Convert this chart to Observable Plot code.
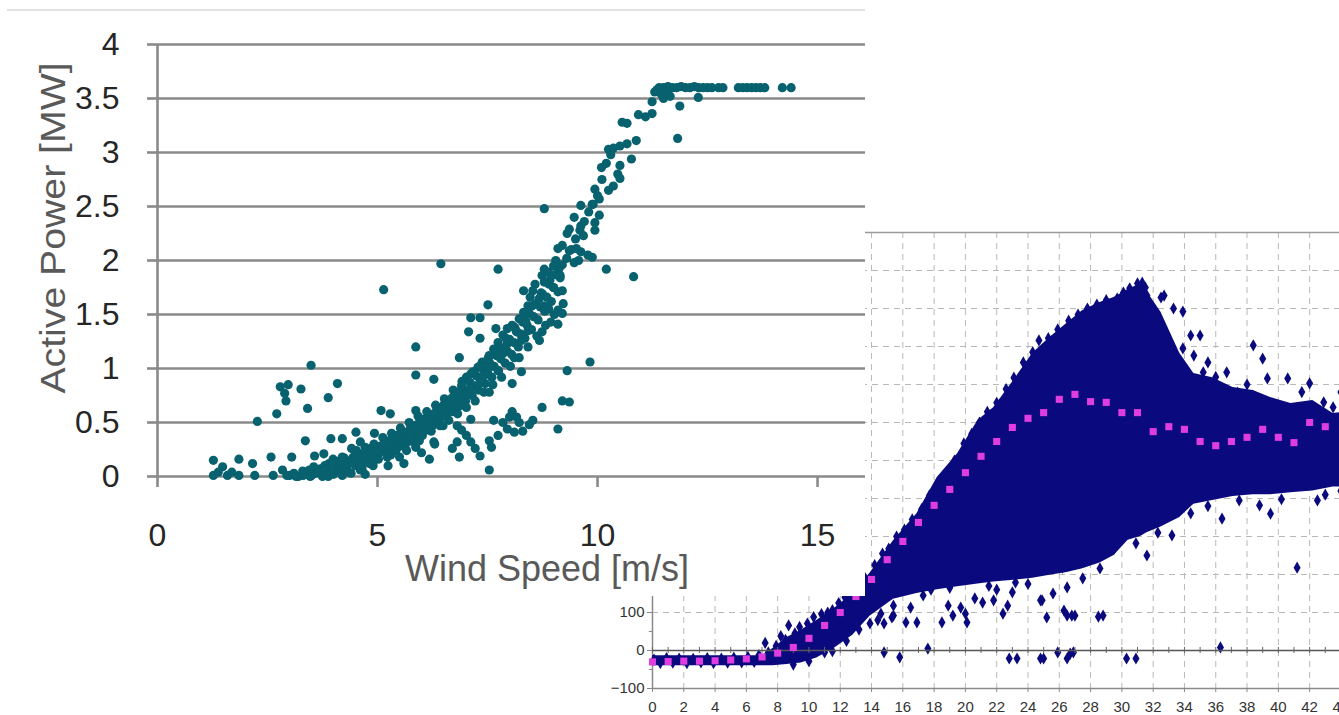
<!DOCTYPE html>
<html>
<head>
<meta charset="utf-8">
<script src="https://cdn.jsdelivr.net/npm/d3@7"></script>
<script src="https://cdn.jsdelivr.net/npm/@observablehq/plot@0.6"></script>
<style>
  html, body { margin: 0; padding: 0; background: #fff; }
  body { width: 1339px; height: 715px; overflow: hidden; position: relative; font-family: "Liberation Sans", Arial, sans-serif; }
  #c2 { position: absolute; left: 600px; top: 225px; width: 803px; height: 490px; }
  #c2 svg { max-width: none !important; }
  #c1 { position: absolute; left: 0; top: 0; width: 865px; height: 596px; background: #fff; overflow: hidden; }
  #c1 .topline { position: absolute; left: 7px; top: 9px; width: 858px; height: 0; border-top: 2px solid #e2e2e2; }
  #c1 svg { position: absolute; left: 0; top: 0; max-width: none !important; }
  .title1 { position: absolute; white-space: nowrap; color: #595959; font-family: "Liberation Sans", Arial, sans-serif; }
  #xtitle1 { left: 547px; top: 560px; font-size: 36px; line-height: 18px; height: 18px; transform: translateX(-50%); }
  #ytitle1 { left: 52px; top: 228px; font-size: 35px; line-height: 1; transform: translate(-50%, -50%) rotate(-90deg) scale(1.12, 1); }
</style>
</head>
<body>
<div id="c2"></div>
<div id="c1"><div class="topline"></div><div id="xtitle1" class="title1">Wind Speed [m/s]</div><div id="ytitle1" class="title1">Active Power [MW]</div></div>
<script>
// ---------- Chart 1 (front): Active Power [MW] vs Wind Speed [m/s] ----------
const xTicks1 = [0, 5, 10, 15];
const yTicks1 = [0, 0.5, 1, 1.5, 2, 2.5, 3, 3.5, 4];

const plateauPts = [[11.4,3.6],[11.5,3.6],[11.6,3.61],[11.7,3.6],[11.8,3.6],[11.9,3.61],[12.0,3.6],[12.1,3.6],[12.2,3.61],[12.3,3.6],[12.4,3.6],[12.5,3.6],[12.6,3.6],[12.75,3.6],[12.85,3.6],[13.2,3.6],[13.3,3.6],[13.4,3.6],[13.5,3.6],[13.6,3.6],[13.7,3.6],[13.8,3.6],[14.2,3.6],[14.4,3.6],
  [11.3,3.56],[11.45,3.54],[11.24,3.47],[11.35,3.58],[11.55,3.57],[11.87,3.43],[12.29,3.51],[11.82,3.13],[11.65,3.52],[11.5,3.5]];

const curvePts = [[11.24,3.36],[11.09,3.33],[10.93,3.35],[10.67,3.27],[10.56,3.28],[10.88,3.11],[10.67,3.08],[10.51,3.06],[10.25,3.03],[10.36,3.04],[10.77,2.94],[10.09,2.86],[10.51,2.88],[10.46,2.80],[10.51,2.76],[10.36,2.69],[10.25,2.65],[9.94,2.66],[10.04,2.57],[9.88,2.52],[9.62,2.51],[9.47,2.40],[10.04,2.42],[9.94,2.35],[9.62,2.32],[9.36,2.29],[9.31,2.25],[9.68,2.23],[9.94,2.28],[9.2,2.14],[9.1,2.11],[9.36,2.09],[9.52,2.11],[9.62,2.08],[9.78,2.05],[9.88,2.03],[9.57,2.0],[9.47,1.98],[9.05,2.0],[9.0,1.95],[8.79,1.92],[8.89,1.89],[9.15,1.86],[8.74,1.86],[8.79,1.80],[8.58,1.78],[9.0,1.75],[9.2,1.72],[8.53,1.72],[8.32,1.72],[8.47,1.66],[8.68,1.65],[8.79,1.58],[8.89,1.55],[9.1,1.54],[9.2,1.51],[8.42,1.58],[8.32,1.52],[8.22,1.46],[8.37,1.44],[8.06,1.40],[7.95,1.37],[8.16,1.34],[8.42,1.35],[8.74,1.34],[8.94,1.43],[9.1,1.41],[7.85,1.31],[7.74,1.24],[7.95,1.23],[8.27,1.26],[8.68,1.26],[7.64,1.18],[7.54,1.12],[7.85,1.14],[8.11,1.10],[7.38,1.06],[7.54,1.01],[7.28,1.01],[7.74,0.98],[7.17,0.97],[7.43,0.94],[7.02,0.92],[7.33,0.87],[6.91,0.84],[7.12,0.81],[6.81,0.78],[7.02,0.75],[7.54,0.78],[6.7,0.73],[6.91,0.70],[6.6,0.69],[6.49,0.64],[6.81,0.66],[6.39,0.61],[6.28,0.58],[6.18,0.55],[6.49,0.56],[6.08,0.52],[5.97,0.49],[5.87,0.47],[5.76,0.44],[6.08,0.44],[5.66,0.41],[5.55,0.38],[5.45,0.35],[5.76,0.36],[5.34,0.33],[5.24,0.30],[5.14,0.29],[5.03,0.26],[4.93,0.24],[4.82,0.23],[4.72,0.19],[4.56,0.16],[4.41,0.13],[4.25,0.12],[4.09,0.10],[3.94,0.08],[3.78,0.06],[3.62,0.04],[3.47,0.02],[3.31,0.01],[3.15,0.0],
  [10.1,2.75],[10.2,2.9],[10.3,2.98]];

const bandPts = [[3.0,0.01],[3.1,0.03],[3.2,0.0],[3.3,0.05],[3.35,0.02],[3.45,0.06],[3.5,0.01],[3.55,0.09],[3.6,0.03],[3.7,0.07],[3.75,0.0],[3.8,0.1],[3.85,0.04],[3.9,0.12],[3.95,0.06],[4.0,0.02],[4.05,0.09],[4.1,0.14],[4.15,0.05],[4.2,0.11],[4.25,0.17],[4.3,0.08],[4.35,0.13],[4.4,0.03],[4.45,0.18],[4.5,0.1],[4.55,0.15],[4.6,0.21],[4.65,0.07],[4.7,0.13],[4.75,0.2],[4.8,0.17],[4.85,0.26],[4.9,0.14],[4.95,0.22],[5.0,0.19],[5.05,0.28],[5.1,0.24],[5.15,0.31],[5.2,0.21],[5.25,0.27],[5.3,0.34],[5.35,0.25],[5.4,0.3],[5.45,0.38],[5.5,0.28],[5.55,0.34],[5.6,0.4],[5.65,0.31],[5.7,0.37],[5.75,0.45],[5.8,0.35],[5.85,0.42],[5.9,0.48],[5.95,0.39],[6.0,0.45],[6.05,0.53],[6.1,0.43],[6.15,0.5],[6.2,0.57],[6.25,0.47],[6.3,0.54],[6.35,0.62],[6.4,0.52],[6.45,0.59],[6.5,0.66],[6.55,0.56],[6.6,0.63],[6.65,0.71],[6.7,0.6],[6.75,0.68],[6.8,0.76],[6.85,0.65],[6.9,0.73],[6.95,0.81],[7.0,0.7],[7.05,0.78],[7.1,0.87],[7.15,0.75],[7.2,0.84],[7.25,0.93],[7.3,0.8],[7.35,0.9],[7.4,0.99],[7.45,0.86],[7.5,0.96],[7.55,1.05],[7.6,0.92],[7.65,1.02],[7.7,1.12],[7.75,0.98],[7.8,1.09],[7.85,1.19],[7.9,1.05],[7.95,1.16],[8.0,1.27],[8.05,1.13],[8.1,1.24],[8.15,1.35],[8.2,1.2],[8.25,1.32],[8.3,1.43],[8.35,1.28],[8.4,1.4],[8.45,1.51],[8.5,1.36],[8.55,1.48],[8.6,1.6],[8.65,1.45],[8.7,1.57],[8.75,1.69],[8.8,1.53],[8.85,1.66],[8.9,1.78],[8.95,1.62],[9.0,1.75],[9.05,1.87],[9.1,1.71],[9.15,1.84],[9.2,1.96],[9.3,2.02],[9.4,2.1],[9.5,2.2],[9.6,2.28],[9.7,2.36],[9.8,2.45],[9.9,2.52],[10.0,2.6]];

const bandPts2 = [[4.52,0.24],[4.62,0.08],[4.72,0.27],[4.82,0.12],[4.92,0.3],[5.02,0.16],[5.12,0.36],[5.22,0.18],[5.32,0.4],[5.42,0.24],[5.52,0.45],[5.62,0.28],[5.72,0.5],[5.82,0.32],[5.92,0.56],[6.02,0.38],[6.12,0.6],[6.22,0.42],[6.32,0.66],[6.42,0.47],[6.52,0.72],[6.62,0.52],[6.72,0.8],[6.82,0.58],[6.92,0.88],[7.02,0.64],[7.12,0.95],[7.22,0.7],[7.32,1.02],[7.42,0.78],[7.52,1.1],[7.62,0.85],[7.72,1.18],[7.82,0.92],[7.92,1.28],[8.02,1.02],[8.12,1.38],[8.22,1.1],[8.32,1.47],[8.42,1.2],[8.52,1.58],[8.62,1.3],[8.72,1.7],[8.82,1.4],[8.92,1.82],[9.02,1.5],[9.12,1.92],[9.22,1.6]];

const outlierPts = [[8.79,2.48],[10.2,1.92],[10.82,1.85],[6.44,1.97],[7.74,1.92],[5.14,1.73],[7.51,1.59],[7.12,1.47],[7.33,1.47],[7.69,1.37],[7.07,1.34],[7.33,1.28],[5.87,1.20],[6.86,1.10],[9.83,1.06],[9.31,0.98],[3.49,1.03],[5.87,0.94],[8.27,0.97],[8.06,0.86],[6.28,0.90],[4.09,0.86],[2.79,0.83],[2.97,0.85],[3.26,0.81],[2.89,0.77],[2.92,0.70],[3.88,0.73],[3.41,0.63],[2.71,0.58],[2.27,0.51],[5.08,0.61],[5.29,0.58],[5.87,0.61],[9.36,0.69],[9.2,0.70],[8.74,0.64],[8.53,0.52],[9.1,0.44],[8.06,0.60],[8.16,0.55],[7.64,0.52],[7.85,0.50],[7.95,0.44],[8.11,0.41],[7.74,0.38],[7.54,0.33],[7.59,0.27],[7.54,0.06],[7.12,0.53],[6.81,0.47],[6.49,0.47],[6.91,0.43],[7.02,0.38],[6.81,0.32],[6.7,0.26],[6.86,0.18],[7.12,0.32],[7.22,0.26],[7.33,0.19],[6.18,0.16],[6.28,0.32],[5.87,0.27],[5.66,0.24],[5.24,0.10],[4.82,0.13],[4.93,0.40],[4.51,0.41],[4.2,0.35],[3.94,0.35],[4.61,0.32],[4.41,0.26],[3.36,0.33],[3.05,0.18],[3.57,0.19],[3.78,0.21],[3.99,0.16],[4.2,0.18],[4.61,0.06],[4.72,0.02],[4.35,0.04],[4.2,0.01],[3.88,0.0],[3.47,0.0],[2.94,0.01],[2.84,0.06],[2.58,0.18],[2.63,0.01],[2.21,0.01],[2.16,0.12],[1.85,0.16],[1.85,0.01],[1.59,0.01],[1.48,0.09],[1.27,0.15],[1.27,0.01],[1.38,0.04],[1.69,0.04],
  [8.3,0.42],[8.45,0.48],[8.22,0.5],[8.0,0.55],[5.5,0.18],[6.0,0.22],[5.3,0.2],[4.9,0.1],[5.6,0.12],[6.3,0.3],[5.95,0.33]];

// ---------- Chart 2 (behind): scatter with binned means ----------
const xTicks2 = [0,2,4,6,8,10,12,14,16,18,20,22,24,26,28,30,32,34,36,38,40,42,44];
const xGrid2 = [2,4,6,8,10,12,14,16,18,20,22,24,26,28,30,32,34,36,38,40,42,44,46];
const xMinor2 = [1,3,5,7,9,11,13,15,17,19,21,23,25,27,29,31,33,35,37,39,41,43,45,47];
const yLabels2 = [-100, 0, 100];
const yMinor2 = [-50,50,150,250,350,450,550,650,750,850,950,1050];
const yDashed2 = [100,200,300,400,500,600,700,800,900,1000];

// dense core envelope
const coreX      = [0, 7, 7.7, 8.6, 9.5, 10.5, 11.6, 12.8, 13.9, 15.4, 16.9, 18.2, 19.5, 20.8, 21.8, 23.1, 24.3, 25.4, 26.5, 27.5, 28.6, 29.5, 30.4, 31.2, 31.6, 32.5, 33.7, 34.6, 35.8, 37.1, 38.4, 39.5, 40.8, 42.2, 43.5, 45];
const coreTop    = [-14, -14, 5, 34, 53, 79, 110, 150, 203, 289, 360, 455, 518, 605, 639, 711, 782, 824, 861, 895, 916, 929, 950, 965, 945, 890, 782, 729, 718, 692, 684, 666, 650, 658, 624, 630];
const coreBottom = [-40, -40, -40, -37, -33, -20, 5, 40, 90, 135, 150, 160, 168, 175, 180, 185, 190, 198, 205, 215, 230, 250, 290, 300, 310, 325, 350, 385, 395, 405, 410, 410, 415, 420, 430, 430];

const fringePts = [[0.1,-24],[0.5,-33],[0.9,-20],[1.3,-32],[1.7,-21],[2.2,-33],[2.6,-22],[3.1,-31],[3.5,-20],[3.9,-33],[4.4,-21],[4.8,-32],[5.2,-19],[5.7,-31],[6.1,-17],[6.5,-30],[6.8,-12],[7.2,20],[7.4,-5],[7.9,12],[8.2,38],[8.5,28],[8.7,66],[9.1,45],[9.4,62],[9.9,71],[10.3,88],[10.8,96],[11.2,100],[11.5,106],[11.9,125],[12.3,140],[12.6,132],[13.1,170],[13.6,190],[11.0,-5],[9.0,-37],[10,-28],[11.5,-2],[12.4,25],[13.2,55],[14.4,80],[14.6,97],[15.3,87],
  [14.2,225],[14.7,255],[15.1,268],[15.6,300],[16.1,318],[16.6,345],[17.2,372],[17.7,408],[18.3,440],[18.8,470],[19.3,500],[19.9,545],[20.4,570],[20.9,600],[21.4,628],[22.0,652],[22.6,688],[23.1,718],[23.7,758],[24.3,785],[24.7,816],[25.3,822],[25.9,845],[26.6,868],[27.2,884],[27.8,900],[28.4,910],[29.0,922],[29.7,926],[30.1,942],[30.5,953],[31.0,966],[31.3,968],[31.5,955],[31.6,934],[31.1,929],
  [32.5,929],[32.7,934],[33.3,900],[33.9,892],[32.5,847],[34.4,829],[35.0,829],[33.9,795],[34.6,776],[35.5,758],[35.2,732],[36.7,732],[37.4,679],[38.4,803],[39.0,768],[39.3,716],[40.6,716],[42.0,703],[42.9,653],[43.5,640],[44,680],[41.5,680],[38,700],[36,720],
  [38.8,382],[41.9,455],[41.2,218],[34.4,361],[36.4,347],[30.9,282],[31.6,250],[28.6,216],[26.2,218],[33.2,303],[29.9,342],[29.5,268],[32.3,310],[35.5,380],[37.5,395],[40.2,398],[43.0,410],[39.5,360],[42.5,395],[44,420],
  [15.4,92],[16.2,74],[16.9,74],[15.4,118],[14.8,71],[13.9,71],[16.5,113],[17.3,145],[18.5,74],[18.9,118],[19.2,92],[19.7,113],[20.0,97],[20.1,74],[20.6,137],[21.1,126],[21.8,132],[22.4,97],[22.7,118],[23.0,153],[23.2,179],[25.2,87],[24.9,132],[26.5,92],[26.5,166],[27.0,92],[28.8,92],[24.8,132],[26.3,105],[26.8,92],[28.5,89],[17.8,160],[19.0,165],[21.5,170],[24.0,175],[27.5,190],[25.6,150],[22.0,160],
  [14.8,-5],[15.8,-18],[17.6,5],[22.8,-21],[23.3,-21],[24.8,-21],[25.0,-21],[25.9,-5],[26.5,-21],[26.7,-8],[26.9,-5],[30.3,-21],[30.9,-21],[36.3,8]];

const meanX = [0,1,2,3,4,5,6,7,8,9,10,11,12,13,14,15,16,17,18,19,20,21,22,23,24,25,26,27,28,29,30,31,32,33,34,35,36,37,38,39,40,41,42,43];
const meanY = [-30,-29,-28,-28,-27,-25,-22,-17,-7,8,32,66,100,142,187,239,287,337,382,424,468,511,550,587,611,626,661,674,655,653,626,626,576,589,582,550,539,550,561,582,561,547,600,589];

// ---------- draw chart 2 ----------
const navy = "#0a0a7e";
const gridC = "#b8b8b8";
const chart2 = Plot.plot({
  width: 803, height: 490,
  marginLeft: 52, marginRight: 0, marginTop: 7, marginBottom: 27,
  x: {domain: [0, 48]},
  y: {domain: [-100, 1100]},
  style: {fontFamily: "Liberation Sans, Arial, sans-serif", fontSize: "15px", color: "#333", background: "transparent", overflow: "visible", maxWidth: "none"},
  marks: [
    Plot.ruleX(xGrid2, {stroke: gridC, strokeWidth: 1, strokeDasharray: "6,5"}),
    Plot.ruleY(yDashed2, {stroke: gridC, strokeWidth: 1, strokeDasharray: "6,5"}),
    Plot.ruleY([1100], {stroke: "#9a9a9a", strokeWidth: 1.5}),
    Plot.ruleY([-100], {stroke: "#8a8a8a", strokeWidth: 1.5}),
    Plot.ruleX([0], {stroke: "#8a8a8a", strokeWidth: 1.5}),
    Plot.areaY(coreX, {x: d => d, y1: (d, i) => coreTop[i], y2: (d, i) => coreBottom[i], fill: navy}),
    Plot.dot(fringePts, {x: d => d[0], y: d => d[1], symbol: "diamond", r: 3.7, fill: navy, stroke: null}),
    Plot.ruleY([0], {stroke: "#555", strokeWidth: 1.6}),
    Plot.ruleX(xMinor2.concat(xTicks2), {y1: -8, y2: 8, stroke: "#666", strokeWidth: 1}),
    Plot.ruleY(yMinor2, {x1: -0.2, x2: 0, stroke: "#888"}),
    Plot.dot(meanX, {x: d => d, y: (d, i) => meanY[i], symbol: "square", r: 4, fill: "#e03de0", stroke: null}),
    Plot.axisX(xTicks2, {tickSize: 4, tickPadding: 9, stroke: "#888", label: null}),
    Plot.axisY(yLabels2, {tickSize: 5, tickPadding: 3, stroke: "#888", label: null})
  ]
});
document.getElementById("c2").append(chart2);

// ---------- draw chart 1 ----------
const teal = "#07616f";
const grey1 = "#8a8a8a";
const chart1 = Plot.plot({
  width: 865, height: 596,
  marginLeft: 157, marginRight: 0, marginTop: 44, marginBottom: 120,
  x: {domain: [0, 16.09]},
  y: {domain: [0, 4]},
  style: {fontFamily: "Liberation Sans, Arial, sans-serif", fontSize: "32px", color: "#262626", background: "transparent", overflow: "visible", maxWidth: "none"},
  marks: [
    Plot.ruleY(yTicks1, {stroke: grey1, strokeWidth: 2.6}),
    Plot.axisY(yTicks1, {tickSize: 10, tickPadding: 28, stroke: grey1, strokeWidth: 2.6, tickFormat: d => String(d), label: null}),
    Plot.axisX(xTicks1, {tickSize: 11, tickPadding: 36, stroke: grey1, strokeWidth: 2.6, tickFormat: d => String(d), label: null}),
    Plot.ruleX([0], {stroke: grey1, strokeWidth: 2.6}),
    Plot.dot(bandPts.concat(bandPts2, curvePts, plateauPts, outlierPts), {x: d => d[0], y: d => d[1], r: 4.6, fill: teal, stroke: null})
  ]
});
document.getElementById("c1").prepend(chart1);
</script>
</body>
</html>
